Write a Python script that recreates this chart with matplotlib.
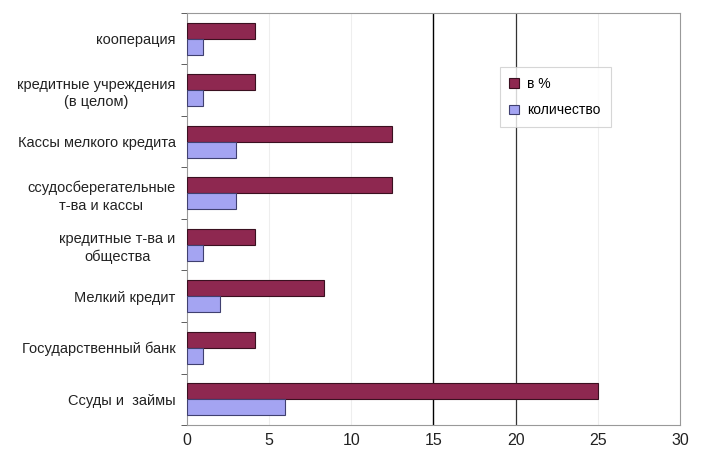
import matplotlib.pyplot as plt
import numpy as np

plt.rcParams['font.family'] = ['Liberation Sans', 'DejaVu Sans']

# categories from bottom to top
categories = [
    "Ссуды и  займы",
    "Государственный банк",
    "Мелкий кредит",
    "кредитные т-ва и\nобщества",
    "ссудосберегательные\nт-ва и кассы",
    "Кассы мелкого кредита",
    "кредитные учреждения\n(в целом)",
    "кооперация",
]
percent = [25, 4.17, 8.33, 4.17, 12.5, 12.5, 4.17, 4.17]
count = [6, 1, 2, 1, 3, 3, 1, 1]

fig = plt.figure(figsize=(7.02, 4.59), dpi=100)
ax = fig.add_axes([0.266, 0.074, 0.703, 0.898])

y = np.arange(len(categories))
h = 0.31
ax.barh(y + h / 2, percent, height=h, color='#8e2850', edgecolor='#3a1020',
        linewidth=0.8, label='в %', zorder=3)
ax.barh(y - h / 2, count, height=h, color='#a4a4f2', edgecolor='#404070',
        linewidth=0.8, label='количество', zorder=3)

ax.set_xlim(0, 30)
ax.set_ylim(-0.5, len(categories) - 0.5)
ax.set_xticks(range(0, 31, 5))
ax.set_yticks(y)
ax.set_yticklabels(categories, fontsize=10.5, multialignment='center',
                   linespacing=1.35, color='#222222')
ax.set_yticks(np.arange(-0.5, len(categories), 1), minor=True)
ax.tick_params(axis='y', which='major', length=0, pad=8)
ax.tick_params(axis='y', which='minor', length=4, color='#444444')
ax.tick_params(axis='x', length=0, labelsize=11.5, pad=6, labelcolor='#222222')

for v in [5, 10, 25]:
    ax.axvline(v, color='#eeeeee', linewidth=0.8, zorder=1)
ax.axvline(15, color='black', linewidth=1.0, zorder=2)
ax.axvline(20, color='#333333', linewidth=0.9, zorder=2)

for s in ax.spines.values():
    s.set_color('#999999')
    s.set_linewidth(0.8)

leg = ax.legend(loc='upper left', bbox_to_anchor=(0.62, 0.885), fontsize=10,
                frameon=True, fancybox=False, handlelength=0.7, handleheight=0.7,
                borderpad=0.7, labelspacing=0.9, handletextpad=0.6)
leg.get_frame().set_edgecolor('#cccccc')
leg.get_frame().set_linewidth(0.8)

fig.savefig('out.png', dpi=100)
